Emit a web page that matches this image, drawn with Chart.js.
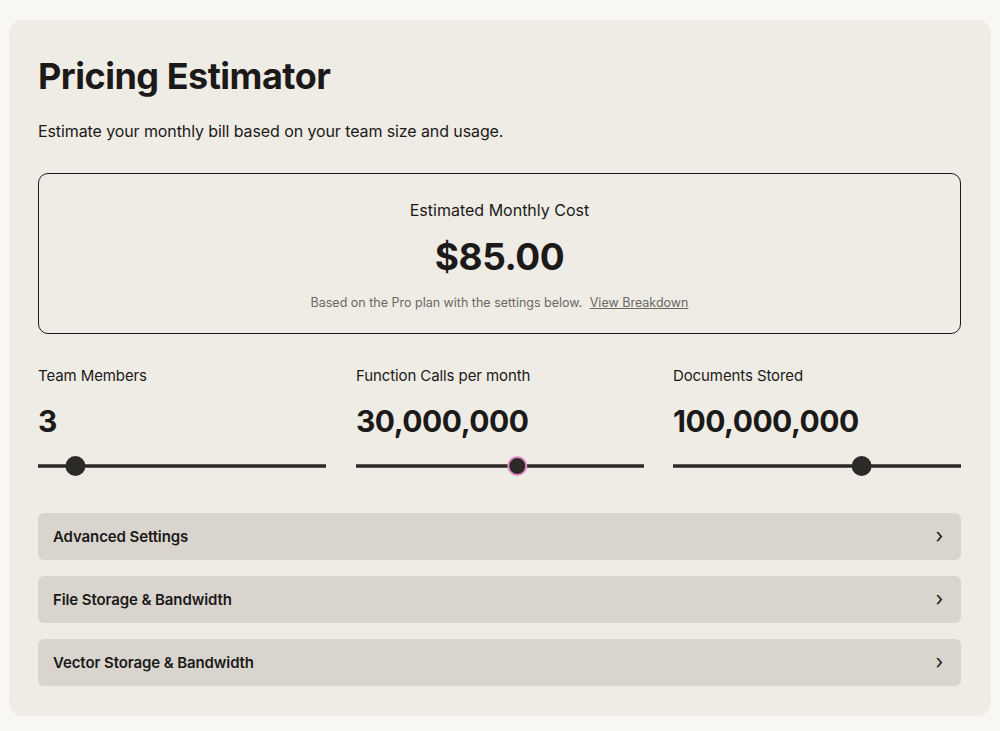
<!DOCTYPE html>
<html>
<head>
<meta charset="utf-8">
<script src="https://cdn.jsdelivr.net/npm/chart.js@4"></script>
<style>
  body { margin: 0; background: #f9f7f1; font-family: Inter, "Noto Sans", sans-serif; color: #1b1a19; }
  .card { position: absolute; left: 9px; top: 20px; width: 982px; height: 696px; background: #efece5; border-radius: 14px; }
  h1 { position: absolute; left: 29px; top: 34px; margin: 0; font-size: 36px; font-weight: 700; letter-spacing: -0.5px; }
  .sub { position: absolute; left: 29px; top: 101px; font-size: 16px; letter-spacing: -0.1px; }
  .box { position: absolute; left: 29px; top: 153px; width: 921px; height: 159px; border: 1px solid #1b1a19; border-radius: 10px; text-align: center; }
  .box .t { margin-top: 26px; font-size: 16px; }
  .box .v { margin-top: 14px; font-size: 37px; font-weight: 700; letter-spacing: -0.5px; }
  .box .n { margin-top: 16px; font-size: 12.5px; color: #6b6862; }
  .box .n a { color: #6b6862; text-decoration: underline; margin-left: 4px; }
  .sl { position: absolute; top: 346px; width: 288px; }
  .sl .l { font-size: 15px; letter-spacing: -0.1px; }
  .sl .val { margin-top: 18px; font-size: 30px; font-weight: 700; letter-spacing: -0.5px; }
  .sl .cw { height: 30px; margin-top: 12px; margin-left: -11px; width: 310px; position: relative; }
  .sl canvas { display: block; }
  .acc { position: absolute; left: 29px; width: 923px; height: 47px; background: #d9d5ce; border-radius: 6px; font-size: 15px; font-weight: 600; line-height: 47px; letter-spacing: -0.1px; }
  .acc span { margin-left: 15px; }
  .acc i { position: absolute; right: 18px; top: 0; font-style: normal; font-weight: 400; font-size: 20px; }
</style>
</head>
<body>
<div class="card">
  <h1>Pricing Estimator</h1>
  <div class="sub">Estimate your monthly bill based on your team size and usage.</div>
  <div class="box">
    <div class="t">Estimated Monthly Cost</div>
    <div class="v">$85.00</div>
    <div class="n">Based on the Pro plan with the settings below. <a>View Breakdown</a></div>
  </div>
  <div class="sl" style="left:29px"><div class="l" id="l0"></div><div class="val" id="v0"></div><div class="cw"><canvas id="c0"></canvas></div></div>
  <div class="sl" style="left:347px"><div class="l" id="l1"></div><div class="val" id="v1"></div><div class="cw"><canvas id="c1"></canvas></div></div>
  <div class="sl" style="left:664px"><div class="l" id="l2"></div><div class="val" id="v2"></div><div class="cw"><canvas id="c2"></canvas></div></div>
  <div class="acc" style="top:493px"><span>Advanced Settings</span><i>›</i></div>
  <div class="acc" style="top:556px"><span>File Storage &amp; Bandwidth</span><i>›</i></div>
  <div class="acc" style="top:619px"><span>Vector Storage &amp; Bandwidth</span><i>›</i></div>
</div>
<script>
const sliderLabels = ['Team Members', 'Function Calls per month', 'Documents Stored'];
const sliderValues = ['3', '30,000,000', '100,000,000'];
const sliderPositions = [13, 56, 65.5];   // percent along track
const thumbBorders = ['#2b2a29', '#e58fc8', '#2b2a29'];

sliderLabels.forEach((label, i) => {
    document.getElementById('l' + i).textContent = label;
    document.getElementById('v' + i).textContent = sliderValues[i];
    new Chart(document.getElementById('c' + i).getContext('2d'), {
        type: 'scatter',
        data: {
            datasets: [{
                data: [{x: sliderPositions[i], y: 0}],
                pointRadius: 9,
                pointBackgroundColor: '#2b2a29',
                pointBorderColor: thumbBorders[i],
                pointBorderWidth: 2,
                clip: false
            }, {
                data: [{x: 0, y: 0}, {x: 100, y: 0}],
                showLine: true,
                borderColor: '#2b2a29',
                borderWidth: 3.5,
                pointRadius: 0,
                clip: false
            }]
        },
        options: {
            maintainAspectRatio: false,
            responsive: true,
            animation: false,
            events: [],
            scales: {
                x: { display: false, min: 0, max: 100 },
                y: { display: false, min: -1, max: 1 }
            },
            plugins: { legend: { display: false }, tooltip: { enabled: false } }
        }
    });
});
</script>
</body>
</html>
